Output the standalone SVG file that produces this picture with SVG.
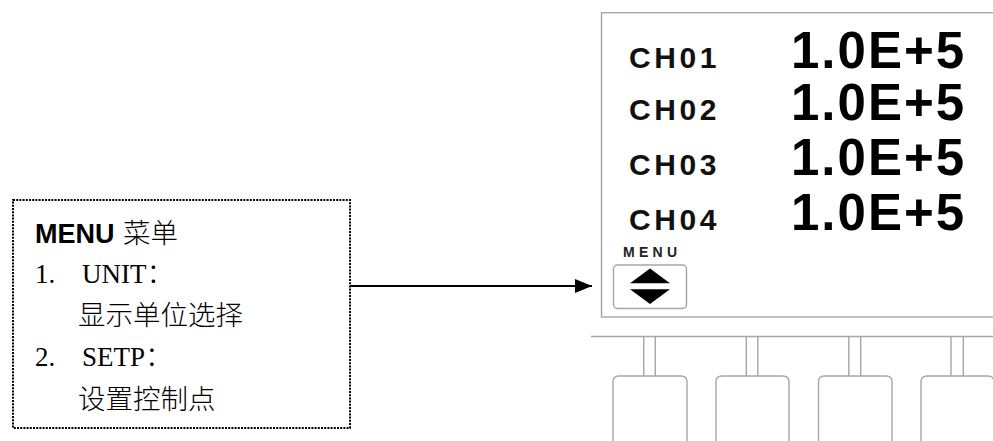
<svg xmlns="http://www.w3.org/2000/svg" width="993" height="441" viewBox="0 0 993 441">
<style>
.ch{font-family:"Liberation Sans",Arial,sans-serif;font-weight:bold;font-size:30px;letter-spacing:3.6px;fill:#111}
.val{font-family:"Liberation Sans",Arial,sans-serif;font-weight:bold;font-size:51px;letter-spacing:2px;fill:#000}
.g{fill:none;stroke:#a6a6a6;stroke-width:1.4}
.tm{font-family:"Liberation Serif","Times New Roman",serif;font-size:27px;fill:#000}
.cjk{font-family:"Noto Sans CJK SC",sans-serif;font-size:27.5px;fill:#000;font-weight:300}
</style>
<defs>
<marker id="ah" markerWidth="17" markerHeight="14" refX="17" refY="7" orient="auto" markerUnits="userSpaceOnUse">
<path d="M0,0 L17,7 L0,14 Z" fill="#000"/>
</marker>
</defs>
<rect width="993" height="441" fill="#fff"/>
<g id="menu-box">
<rect x="13" y="200" width="337" height="228" fill="none" stroke="#000" stroke-width="2" stroke-dasharray="2 1.2"/>
<text x="35" y="243" font-family="'Liberation Sans',Arial,sans-serif" font-weight="bold" font-size="27">MENU <tspan x="123" class="cjk" font-size="26.5">菜单</tspan></text>
<text class="tm" x="35" y="283">1.<tspan x="82">UNIT</tspan><tspan class="cjk">：</tspan></text>
<text class="cjk" x="78" y="325">显示单位选择</text>
<text class="tm" x="35" y="366">2.<tspan x="82">SETP</tspan><tspan class="cjk">：</tspan></text>
<text class="cjk" x="78" y="409">设置控制点</text>
</g>
<g id="connectors">
<line x1="350" y1="286" x2="592" y2="286" stroke="#000" stroke-width="2.2" marker-end="url(#ah)"/>
</g>
<g id="display">
<rect x="601.5" y="12.7" width="400" height="304.3" class="g"/>
<text class="ch" x="629" y="68">CH01</text>
<text class="ch" x="629" y="120">CH02</text>
<text class="ch" x="629" y="175">CH03</text>
<text class="ch" x="629" y="230">CH04</text>
<text class="val" x="791" y="68">1.0E+5</text>
<text class="val" x="791" y="120">1.0E+5</text>
<text class="val" x="791" y="175">1.0E+5</text>
<text class="val" x="791" y="230">1.0E+5</text>
<text x="623" y="257" font-family="'Liberation Sans',Arial,sans-serif" font-weight="bold" font-size="14" letter-spacing="4.3" fill="#222">MENU</text>
<rect x="613.5" y="265" width="73" height="43.5" rx="4" class="g"/>
<path d="M650,268.5 L670,283.3 L630,283.3 Z" fill="#000"/>
<path d="M630,289.3 L670,289.3 L650,304 Z" fill="#000"/>
</g>
<g id="keypad">
<line x1="591" y1="336.5" x2="993" y2="336.5" class="g"/>
<g id="key1">
<path d="M643.7,336.5 V376 M655.3,336.5 V376" class="g"/>
<path d="M613,445 V382 Q613,376 619,376 H681 Q687,376 687,382 V445" class="g"/>
</g>
<g id="key2">
<path d="M746.3,336.5 V376 M757.8,336.5 V376" class="g"/>
<path d="M716,445 V382 Q716,376 722,376 H783 Q789,376 789,382 V445" class="g"/>
</g>
<g id="key3">
<path d="M848.8,336.5 V376 M860.7,336.5 V376" class="g"/>
<path d="M818.5,445 V382 Q818.5,376 824.5,376 H886 Q892,376 892,382 V445" class="g"/>
</g>
<g id="key4">
<path d="M951,336.5 V376 M963.3,336.5 V376" class="g"/>
<path d="M921,445 V382 Q921,376 927,376 H988 Q994,376 994,382 V445" class="g"/>
</g>
</g>
</svg>
